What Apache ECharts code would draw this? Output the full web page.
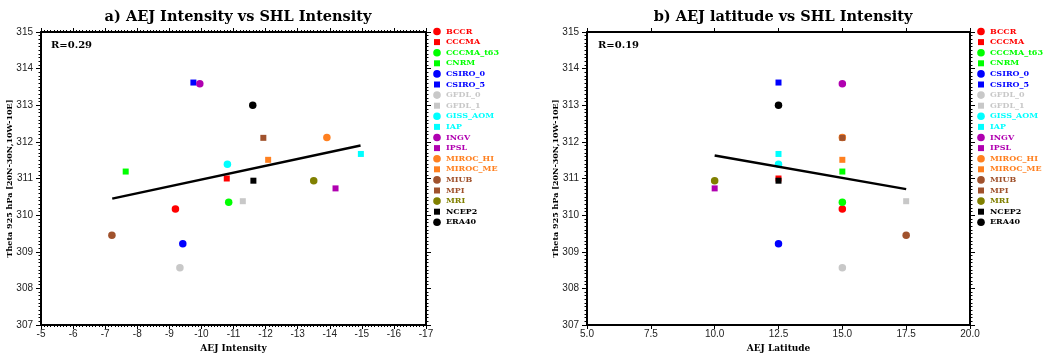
<!DOCTYPE html>
<html>
<head>
<meta charset="utf-8">
<script src="https://cdn.jsdelivr.net/npm/echarts@6/dist/echarts.min.js"></script>
<style>html,body{margin:0;padding:0;background:#fff}#c{width:1053px;height:358px}</style>
</head>
<body>
<div id="c"></div>
<script>
// ---- data ----
const models = ['BCCR','CCCMA','CCCMA_t63','CNRM','CSIRO_0','CSIRO_5','GFDL_0','GFDL_1','GISS_AOM','IAP','INGV','IPSL','MIROC_HI','MIROC_ME','MIUB','MPI','MRI','NCEP2','ERA40'];
const markers = ['circle','square','circle','square','circle','square','circle','square','circle','square','circle','square','circle','square','circle','square','circle','square','circle'];
const colors = ['#ff0000','#ff0000','#00ff00','#00ff00','#0000ff','#0000ff','#c8c8c8','#c8c8c8','#00ffff','#00ffff','#b000b0','#b000b0','#ff8020','#ff8020','#a0522d','#a0522d','#808000','#000000','#000000'];
const aejIntensity = [-9.19,-10.79,-10.85,-7.64,-9.42,-9.75,-9.33,-11.29,-10.81,-14.97,-9.95,-14.18,-13.91,-12.08,-7.21,-11.93,-13.50,-11.62,-11.60];
const aejLatitude  = [15,12.5,15,15,12.5,12.5,15,17.5,12.5,12.5,15,10,15,15,17.5,15,10,12.5,12.5];
const shlTheta     = [310.17,311.00,310.35,311.19,309.22,313.62,308.56,310.38,311.39,311.67,313.59,310.73,312.12,311.51,309.45,312.11,310.94,310.94,313.00];
const fitA = [[-7.22,310.45],[-14.96,311.90]];
const fitB = [[10,311.63],[17.5,310.71]];
const titles = ['a) AEJ Intensity vs SHL Intensity','b) AEJ latitude vs SHL Intensity'];
const rLabels = ['R=0.29','R=0.19'];
const xNames = ['AEJ Intensity','AEJ Latitude'];
const yName = 'Theta 925 hPa [20N-30N,10W-10E]';

// ---- chart ----
const serif = 'DejaVu Serif';
const sans = 'Liberation Sans';
const grids = [{left:41, top:32, width:385, height:296},{left:587, top:32, width:383, height:296}];
const lineStyle = {color:'#000', width:2};

function xAx(gi, pos, showLabel){
  const base = {
    type:'value', gridIndex:gi, position:pos,
    axisLine:{show:true, onZero:false, lineStyle},
    axisTick:{show:true, inside:false, length:4, lineStyle:{color:'#000', width:1}},
    splitLine:{show:false},
    axisLabel:{show:showLabel, color:'#222', fontFamily:sans, fontSize:10, margin:4},
    name: showLabel ? xNames[gi] : '',
    nameLocation:'middle', nameGap:19, nameMoveOverlap:false,
    nameTextStyle:{fontFamily:serif, fontWeight:'bold', fontSize:9, color:'#000'}
  };
  if (gi === 0) {
    Object.assign(base, {min:-17, max:-5, interval:1, inverse:true,
      minorTick:{show:true, splitNumber:10, length:2, lineStyle:{color:'#000', width:1}}});
  } else {
    Object.assign(base, {min:5, max:20, interval:2.5,
      axisLabel:Object.assign(base.axisLabel, {formatter:v=>v.toFixed(1)})});
  }
  return base;
}
function yAx(gi, pos, showLabel){
  return {
    type:'value', gridIndex:gi, position:pos, min:307, max:315, interval:1,
    axisLine:{show:true, onZero:false, lineStyle},
    axisTick:{show:true, inside:false, length:5, lineStyle:{color:'#000', width:1}},
    minorTick:{show:true, splitNumber:10, length:2.5, lineStyle:{color:'#000', width:1}},
    splitLine:{show:false},
    axisLabel:{show:showLabel, color:'#222', fontFamily:sans, fontSize:10, margin:8},
    name: showLabel ? yName : '',
    nameLocation:'middle', nameGap:27, nameMoveOverlap:false,
    nameTextStyle:{fontFamily:serif, fontWeight:'bold', fontSize:8, color:'#000'}
  };
}

const circleIcon = 'path://M0,0M10,10M1.2,5A3.8,3.8,0,1,1,8.8,5A3.8,3.8,0,1,1,1.2,5Z';
const squareIcon = 'path://M0,0M10,10M2,2L8,2L8,8L2,8Z';

const series = [];
[aejIntensity, aejLatitude].forEach((xs, p) => {
  models.forEach((m, i) => {
    series.push({
      type:'scatter', name:m, xAxisIndex:p*2, yAxisIndex:p*2,
      symbol:markers[i], symbolSize: markers[i]==='circle' ? 7.5 : 6,
      itemStyle:{color:colors[i], opacity:1},
      data:[[xs[i], shlTheta[i]]], z:2, silent:true
    });
  });
  series.push({
    type:'line', name:'fit'+p, xAxisIndex:p*2, yAxisIndex:p*2,
    data: p===0 ? fitA : fitB, symbol:'none',
    lineStyle:{color:'#000', width:2.5}, z:5, silent:true
  });
});

function legendFor(left){
  return {
    orient:'vertical', left:left, top:26.5, itemWidth:10, itemHeight:10, itemGap:0.6,
    padding:0, selectedMode:false,
    data: models.map((m,i)=>({name:m, icon: markers[i]==='circle'?circleIcon:squareIcon,
      textStyle:{color:colors[i]}})),
    textStyle:{fontFamily:serif, fontWeight:'bold', fontSize:8, lineHeight:10, padding:[0,0,0,-1]}
  };
}

const option = {
  backgroundColor:'#fff',
  animation:false,
  title:[
    {text:titles[0], left:233, top:5, textAlign:'center', textStyle:{fontFamily:serif, fontWeight:'bold', fontSize:14.5, color:'#000'}},
    {text:titles[1], left:778, top:5, textAlign:'center', textStyle:{fontFamily:serif, fontWeight:'bold', fontSize:14.5, color:'#000'}},
    {text:rLabels[0], left:46, top:35, textStyle:{fontFamily:serif, fontWeight:'bold', fontSize:10, color:'#000'}},
    {text:rLabels[1], left:593, top:35, textStyle:{fontFamily:serif, fontWeight:'bold', fontSize:10, color:'#000'}}
  ],
  grid:grids,
  xAxis:[xAx(0,'bottom',true), xAx(0,'top',false), xAx(1,'bottom',true), xAx(1,'top',false)],
  yAxis:[yAx(0,'left',true), yAx(0,'right',false), yAx(1,'left',true), yAx(1,'right',false)],
  legend:[legendFor(432), legendFor(976)],
  series:series
};

const chart = echarts.init(document.getElementById('c'), null, {renderer:'canvas'});
chart.setOption(option);
</script>
</body>
</html>
